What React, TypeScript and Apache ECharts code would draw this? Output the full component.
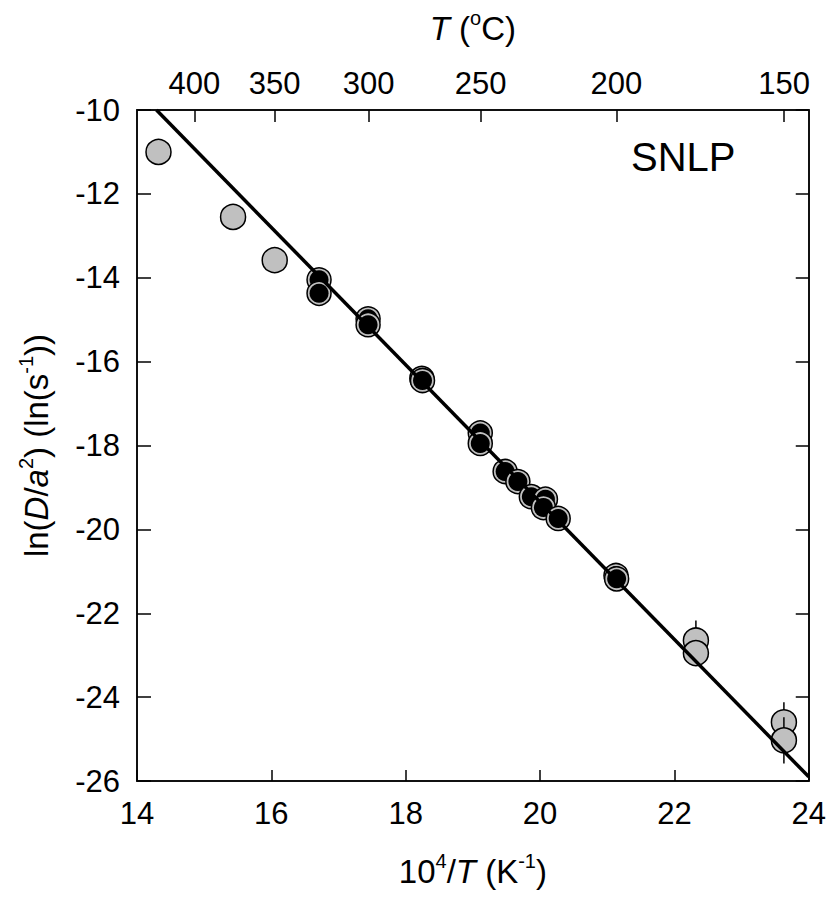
import React, { useEffect, useRef } from "react";
import * as echarts from "echarts";

// ---- data ----
const xTickValues = [14, 16, 18, 20, 22, 24];
const yTickValues = [-26, -24, -22, -20, -18, -16, -14, -12, -10];
const topCelsius = [400, 350, 300, 250, 200, 150];

// grey (excluded) steps: x = 10^4/T, y = ln(D/a^2), err = half error bar
const grayX = [14.32, 15.43, 16.05, 22.32, 22.32, 23.63, 23.63];
const grayY = [-11.0, -12.55, -13.58, -22.65, -22.95, -24.6, -25.03];
const grayErr = [0, 0, 0, 0.48, 0, 0.48, 0.55];

// black (fitted) steps
const blackX = [16.71, 16.71, 17.44, 17.44, 18.24, 18.25, 19.11, 19.11, 19.48, 19.67, 19.87, 20.08, 20.05, 20.27, 21.13, 21.14];
const blackY = [-14.05, -14.37, -14.98, -15.12, -16.4, -16.45, -17.7, -17.95, -18.62, -18.86, -19.22, -19.28, -19.48, -19.74, -21.1, -21.18];

// Arrhenius fit line end points
const fitX = [14.29, 24];
const fitY = [-10, -25.9];

const FONT = "'Liberation Sans', Arial, Helvetica, sans-serif";

export default function App() {
  const ref = useRef<HTMLDivElement>(null);

  useEffect(() => {
    if (!ref.current) return;
    const chart = echarts.init(ref.current, null, { renderer: "svg" });
    const rich = {
      n: { fontSize: 33, fontFamily: FONT, color: "#000", lineHeight: 40 },
      i: { fontSize: 33, fontFamily: FONT, color: "#000", fontStyle: "italic", lineHeight: 40 },
      s: { fontSize: 20, fontFamily: FONT, color: "#000", verticalAlign: "top", lineHeight: 40 },
    };
    const axisLine = { show: true, lineStyle: { color: "#111", width: 2 } };
    const tickLabel = { fontSize: 31, fontFamily: FONT, color: "#000" };
    const option: any = {
      animation: false,
      backgroundColor: "#fff",
      grid: { left: 137, top: 110, width: 672, height: 671, containLabel: false },
      xAxis: [
        {
          type: "value",
          position: "bottom",
          min: 14,
          max: 24,
          interval: 2,
          axisLine,
          axisTick: { show: true, inside: true, length: 11, lineStyle: { color: "#000", width: 1.5 } },
          axisLabel: { margin: 17, ...tickLabel, customValues: xTickValues },
          splitLine: { show: false },
          name: "{n|10}{s|4}{n|/}{i|T}{n| (K}{s|-1}{n|)}",
          nameLocation: "middle",
          nameGap: 70,
          nameTextStyle: { rich },
        },
        {
          type: "value",
          position: "top",
          min: 14,
          max: 24,
          axisLine,
          axisTick: {
            show: true,
            inside: true,
            length: 12,
            lineStyle: { color: "#000", width: 1.5 },
            customValues: topCelsius.map((c) => 1e4 / (c + 273.15)),
          },
          axisLabel: {
            margin: 11,
            ...tickLabel,
            customValues: topCelsius.map((c) => 1e4 / (c + 273.15)),
            formatter: (v: number) => String(Math.round(1e4 / v - 273.15)),
          },
          splitLine: { show: false },
          name: "{i|T}{n| (}{s|o}{n|C)}",
          nameLocation: "middle",
          nameGap: 62,
          nameTextStyle: { rich },
        },
      ],
      yAxis: [
        {
          type: "value",
          position: "left",
          min: -26,
          max: -10,
          interval: 2,
          axisLine,
          axisTick: { show: true, inside: true, length: 14, lineStyle: { color: "#000", width: 1.5 } },
          axisLabel: { margin: 17, ...tickLabel, customValues: yTickValues },
          splitLine: { show: false },
          name: "{n|ln(}{i|D}{n|/}{i|a}{s|2}{n|) (ln(s}{s|-1}{n|))}",
          nameLocation: "middle",
          nameGap: 81,
          nameTextStyle: { rich },
        },
        {
          type: "value",
          position: "right",
          min: -26,
          max: -10,
          interval: 2,
          axisLine,
          axisTick: { show: true, inside: true, length: 13, lineStyle: { color: "#000", width: 1.5 } },
          axisLabel: { show: false },
          splitLine: { show: false },
        },
      ],
      series: [
        {
          type: "custom",
          name: "grey",
          xAxisIndex: 0,
          yAxisIndex: 0,
          z: 2,
          encode: { x: 0, y: 1 },
          data: grayX.map((x, k) => [x, grayY[k], grayErr[k]]),
          renderItem: (params: any, api: any) => {
            const x = api.value(0);
            const y = api.value(1);
            const e = api.value(2);
            const c = api.coord([x, y]);
            const children: any[] = [];
            if (e > 0) {
              const t = api.coord([x, y + e]);
              const b = api.coord([x, y - e]);
              children.push({
                type: "line",
                shape: { x1: c[0], y1: t[1], x2: c[0], y2: b[1] },
                style: { stroke: "#000", lineWidth: 1.5 },
              });
            }
            children.push({
              type: "circle",
              shape: { cx: c[0], cy: c[1], r: 12.5 },
              style: { fill: "#c0c0c0", stroke: "#000", lineWidth: 1.5 },
            });
            return { type: "group", children };
          },
        },
        {
          type: "custom",
          name: "black",
          xAxisIndex: 0,
          yAxisIndex: 0,
          z: 3,
          encode: { x: 0, y: 1 },
          data: blackX.map((x, k) => [x, blackY[k]]),
          renderItem: (params: any, api: any) => {
            const c = api.coord([api.value(0), api.value(1)]);
            return {
              type: "group",
              children: [
                {
                  type: "circle",
                  shape: { cx: c[0], cy: c[1], r: 12 },
                  style: { fill: "#c0c0c0", stroke: "#000", lineWidth: 1.5 },
                },
                {
                  type: "circle",
                  shape: { cx: c[0], cy: c[1], r: 9.5 },
                  style: { fill: "#000" },
                },
              ],
            };
          },
        },
        {
          type: "line",
          name: "fit",
          xAxisIndex: 0,
          yAxisIndex: 0,
          z: 4,
          showSymbol: false,
          symbol: "none",
          data: fitX.map((x, k) => [x, fitY[k]]),
          lineStyle: { color: "#000", width: 3.5 },
        },
      ],
      graphic: [
        {
          type: "text",
          x: 631,
          y: 157,
          style: { text: "SNLP", fontSize: 40, fontFamily: FONT, fill: "#000", verticalAlign: "middle" },
        },
      ],
    };
    chart.setOption(option);
    return () => chart.dispose();
  }, []);

  return <div ref={ref} style={{ position: "absolute", left: 0, top: 0, width: 829, height: 903 }} />;
}
